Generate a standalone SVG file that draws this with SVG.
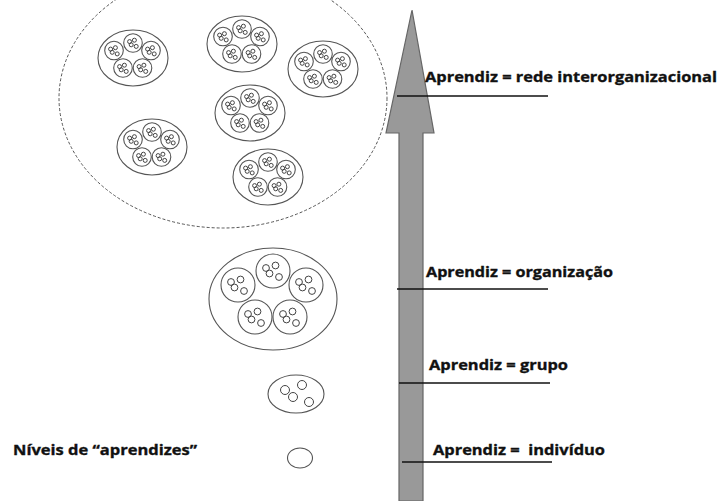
<svg xmlns="http://www.w3.org/2000/svg" xmlns:xlink="http://www.w3.org/1999/xlink" width="718" height="501" viewBox="0 0 718 501">
  <style>
    .ring { fill: none; stroke: #555; stroke-width: 1.1; }
    .dot { fill: none; stroke: #444; stroke-width: 1; }
    .net { fill: none; stroke: #555; stroke-width: 1; stroke-dasharray: 3 2; }
    .lvl { stroke: #111; stroke-width: 1.6; }
    .lbl { font-family: "Open Sans", Lato, "Liberation Sans", sans-serif; font-weight: bold; font-size: 15px; fill: #111; stroke: #111; stroke-width: 0.35; }
  </style>
  <defs>
    <!-- large team: circle with four members -->
    <g id="team-lg">
      <circle class="ring" r="17"/>
      <circle class="dot" cx="-7" cy="-3" r="3.4"/>
      <circle class="dot" cx="2.5" cy="-5.5" r="3.4"/>
      <circle class="dot" cx="-3.5" cy="2.5" r="3.4"/>
      <circle class="dot" cx="6" cy="6" r="3.4"/>
    </g>
    <!-- small team used inside the network -->
    <g id="team-sm">
      <circle class="ring" r="9.3"/>
      <circle class="dot" cx="-3.4" cy="-1.4" r="2"/>
      <circle class="dot" cx="1.4" cy="-2.8" r="2"/>
      <circle class="dot" cx="-1.8" cy="1.8" r="2"/>
      <circle class="dot" cx="3.2" cy="3.4" r="2"/>
    </g>
    <g id="org-sm">
      <ellipse class="ring" rx="35" ry="28"/>
      <use xlink:href="#team-sm" x="0" y="-15"/>
      <use xlink:href="#team-sm" x="-19" y="-7.5"/>
      <use xlink:href="#team-sm" x="18" y="-7.5"/>
      <use xlink:href="#team-sm" x="-10" y="10"/>
      <use xlink:href="#team-sm" x="9.5" y="10"/>
    </g>
  </defs>

  <!-- level markers and the rising arrow -->
  <g id="connectors">
    <path d="M412 10 L434 133 L423 133 L423 501 L399 501 L399 133 L386 133 Z" fill="#999" stroke="#666" stroke-width="1.2"/>
    <line class="lvl" x1="397" y1="96" x2="548" y2="96"/>
    <line class="lvl" x1="397" y1="289" x2="548" y2="289"/>
    <line class="lvl" x1="399" y1="383" x2="550" y2="383"/>
    <line class="lvl" x1="402" y1="462" x2="552" y2="462"/>
  </g>

  <!-- interorganizational network -->
  <g id="network">
    <ellipse class="net" cx="223" cy="98" rx="164" ry="130"/>
    <use xlink:href="#org-sm" x="133" y="58"/>
    <use xlink:href="#org-sm" x="242" y="44"/>
    <use xlink:href="#org-sm" x="323" y="69"/>
    <use xlink:href="#org-sm" x="250" y="113"/>
    <use xlink:href="#org-sm" x="152" y="147"/>
    <use xlink:href="#org-sm" x="268" y="177"/>
  </g>

  <!-- single organization -->
  <g id="organization" transform="translate(273 299)">
    <ellipse class="ring" rx="64" ry="51"/>
    <use xlink:href="#team-lg" x="0" y="-28"/>
    <use xlink:href="#team-lg" x="-35" y="-14"/>
    <use xlink:href="#team-lg" x="33" y="-14"/>
    <use xlink:href="#team-lg" x="-18" y="18"/>
    <use xlink:href="#team-lg" x="17" y="18"/>
  </g>

  <!-- group -->
  <g id="group">
    <ellipse class="ring" cx="296" cy="394" rx="28" ry="19"/>
    <circle class="dot" cx="285" cy="390" r="4.5"/>
    <circle class="dot" cx="302" cy="385" r="4.5"/>
    <circle class="dot" cx="293" cy="397" r="4.5"/>
    <circle class="dot" cx="309" cy="402" r="4.5"/>
  </g>

  <!-- individual -->
  <g id="individual">
    <ellipse class="ring" cx="300" cy="458" rx="12.5" ry="10"/>
  </g>

  <g id="labels">
    <text class="lbl" x="425" y="82" textLength="292" lengthAdjust="spacingAndGlyphs">Aprendiz = rede interorganizacional</text>
    <text class="lbl" x="426" y="277" textLength="187" lengthAdjust="spacingAndGlyphs">Aprendiz = organização</text>
    <text class="lbl" x="429" y="370" textLength="139" lengthAdjust="spacingAndGlyphs">Aprendiz = grupo</text>
    <text class="lbl" x="433" y="455" textLength="172" lengthAdjust="spacingAndGlyphs" xml:space="preserve">Aprendiz =  indivíduo</text>
    <text class="lbl" x="13" y="455" textLength="184" lengthAdjust="spacingAndGlyphs">Níveis de “aprendizes”</text>
  </g>
</svg>
